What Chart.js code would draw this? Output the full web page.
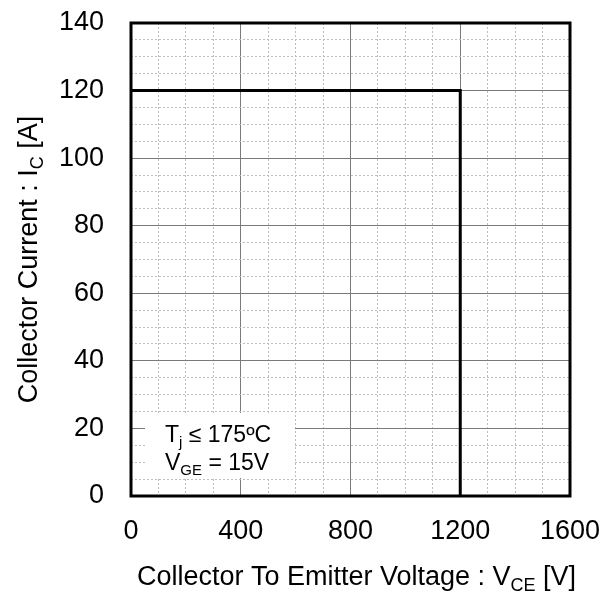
<!DOCTYPE html>
<html>
<head>
<meta charset="utf-8">
<script src="https://cdn.jsdelivr.net/npm/chart.js@4.4.1/dist/chart.umd.min.js"></script>
<style>
  html, body { margin: 0; padding: 0; background: #fff; }
  #chart { display: block; }
</style>
</head>
<body>
<canvas id="chart" width="613" height="591"></canvas>
<script>
// operating limit: flat at 120 A up to 1200 V, then straight down
const vce = [0, 1200, 1200];
const ic = [120, 120, 0];
const xTickLabels = [0, 400, 800, 1200, 1600];
const yTickLabels = [0, 20, 40, 60, 80, 100, 120, 140];

// text pieces, second item true = subscript
const xTitle = [["Collector To Emitter Voltage : V"], ["CE", true], [" [V]"]];
const yTitle = [["Collector Current : I"], ["C", true], [" [A]"]];
const noteLines = [
  [["T"], ["j", true], [" \u2264 175\u00baC"]],
  [["V"], ["GE", true], [" = 15V"]],
];

const FONT = "'Liberation Sans', Arial, sans-serif";

function richWidth(ctx, parts, size) {
  let w = 0;
  parts.forEach(([t, sub]) => {
    ctx.font = (sub ? Math.round(size * 0.65) : size) + "px " + FONT;
    w += ctx.measureText(t).width;
  });
  return w;
}

function drawRich(ctx, parts, x, y, size) {
  ctx.textBaseline = "alphabetic";
  ctx.textAlign = "left";
  parts.forEach(([t, sub]) => {
    const s = sub ? Math.round(size * 0.65) : size;
    ctx.font = s + "px " + FONT;
    ctx.fillText(t, x, sub ? y + size * 0.22 : y);
    x += ctx.measureText(t).width;
  });
}

const decor = {
  id: "decor",
  beforeDatasetsDraw(chart) {
    const { ctx, chartArea: a } = chart;
    ctx.save();
    ctx.fillStyle = "#fff";
    ctx.fillRect(a.left + 14, a.bottom - 83, 150, 65);
    ctx.fillStyle = "#000";
    drawRich(ctx, noteLines[0], a.left + 34, a.bottom - 54, 23);
    drawRich(ctx, noteLines[1], a.left + 34, a.bottom - 26, 23);
    ctx.restore();
  },
  afterDraw(chart) {
    const { ctx, chartArea: a } = chart;
    ctx.save();
    ctx.strokeStyle = "#000";
    ctx.lineWidth = 3;
    ctx.strokeRect(a.left, a.top, a.right - a.left, a.bottom - a.top);

    ctx.fillStyle = "#000";
    const wx = richWidth(ctx, xTitle, 27);
    drawRich(ctx, xTitle, (a.left + a.right) / 2 - wx / 2 + 6, 585, 27);

    ctx.translate(37, (a.top + a.bottom) / 2);
    ctx.rotate(-Math.PI / 2);
    const wy = richWidth(ctx, yTitle, 27);
    drawRich(ctx, yTitle, -wy / 2, 0, 27);
    ctx.restore();
  },
};

const isMajorX = (v) => xTickLabels.includes(v);
const isMajorY = (v) => yTickLabels.includes(v);

new Chart(document.getElementById("chart"), {
  type: "line",
  data: {
    datasets: [
      {
        data: vce.map((v, i) => ({ x: v, y: ic[i] })),
        borderColor: "#000",
        borderWidth: 3,
        pointRadius: 0,
        tension: 0,
        fill: false,
      },
    ],
  },
  options: {
    responsive: false,
    animation: false,
    layout: { padding: { top: 23, right: 43, left: 0, bottom: 0 } },
    plugins: { legend: { display: false }, tooltip: { enabled: false } },
    scales: {
      x: {
        type: "linear",
        min: 0,
        max: 1600,
        afterFit: (s) => {
          s.height = 95;
          s.paddingLeft = 0;
          s.paddingRight = 0;
        },
        ticks: {
          stepSize: 100,
          autoSkip: false,
          maxRotation: 0,
          padding: 19,
          color: "#000",
          font: { family: FONT, size: 27 },
          callback: (v) => (isMajorX(v) ? v : ""),
        },
        grid: {
          drawTicks: false,
          color: (c) => (c.tick && isMajorX(c.tick.value) ? "#7a7a7a" : "#bdbdbd"),
          lineWidth: 1,
        },
        border: {
          display: false,
          dash: (c) => (c.tick && !isMajorX(c.tick.value) ? [2, 2] : []),
        },
      },
      y: {
        min: 0,
        max: 140,
        afterFit: (s) => {
          s.width = 131;
          s.paddingTop = 0;
          s.paddingBottom = 0;
        },
        ticks: {
          stepSize: 5,
          autoSkip: false,
          padding: 27,
          color: "#000",
          font: { family: FONT, size: 27 },
          callback: (v) => (isMajorY(v) ? v : ""),
        },
        grid: {
          drawTicks: false,
          color: (c) => (c.tick && isMajorY(c.tick.value) ? "#7a7a7a" : "#bdbdbd"),
          lineWidth: 1,
        },
        border: {
          display: false,
          dash: (c) => (c.tick && !isMajorY(c.tick.value) ? [2, 2] : []),
        },
      },
    },
  },
  plugins: [decor],
});
</script>
</body>
</html>
